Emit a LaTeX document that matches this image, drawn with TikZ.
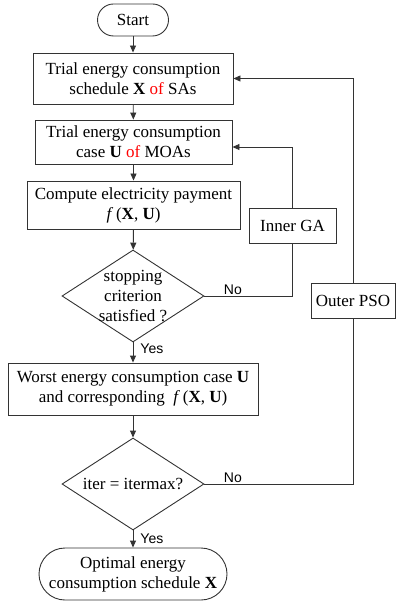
\documentclass[tikz,border=0pt]{standalone}
\usepackage{fontspec}
\setmainfont{Liberation Serif}
\newfontfamily\lblfont{Liberation Sans}
\usetikzlibrary{shapes.geometric,arrows.meta}
\begin{document}
\begin{tikzpicture}[x=1pt,y=-1pt,
  font=\fontsize{17}{20}\selectfont,
  line/.style={draw=black!80,line width=0.9pt},
  flow/.style={line,-{Triangle[length=7pt,width=6pt]}},
  box/.style={line,rectangle,align=center,inner sep=0pt},
  decision/.style={line,diamond,aspect=1.54,align=center,inner sep=-3pt,
    minimum width=142pt,minimum height=92pt},
  lbl/.style={font=\lblfont\fontsize{14}{16}\selectfont,inner sep=1pt}]
  \useasboundingbox (0,0) rectangle (396,601);
  % main column
  \node[box,rounded corners=16pt,minimum width=71pt,minimum height=32pt] (start) at (133,20) {Start};
  \node[box,minimum width=200pt,minimum height=51pt] (trialX) at (133,78.5)
    {Trial energy consumption\\schedule \textbf{X} \textcolor{red}{of} SAs};
  \node[box,minimum width=197pt,minimum height=44pt] (trialU) at (133.5,142)
    {Trial energy consumption\\case \textbf{U} \textcolor{red}{of} MOAs};
  \node[box,minimum width=213pt,minimum height=48pt] (pay) at (133.5,205)
    {Compute electricity payment\\\textit{f}\,(\textbf{X}, \textbf{U})};
  \node[decision] (stop) at (133,296) {stopping\\criterion\\satisfied ?};
  \node[box,minimum width=250pt,minimum height=52pt] (worst) at (133,389)
    {Worst energy consumption case \textbf{U}\\and corresponding \ \textit{f}\,(\textbf{X}, \textbf{U})};
  \node[decision] (iter) at (133,484) {iter = itermax?};
  \node[box,rounded corners=26pt,minimum width=188pt,minimum height=52pt] (opt) at (133,574)
    {Optimal energy\\consumption schedule \textbf{X}};
  % loop boxes
  \node[box,minimum width=87pt,minimum height=35pt] (ga) at (292.5,225.5) {Inner GA};
  \node[box,minimum width=84pt,minimum height=35pt] (pso) at (353,300.5) {Outer PSO};
  % arrows
  \draw[flow] (start) -- (trialX);
  \draw[flow] (trialX) -- (trialU);
  \draw[flow] (trialU) -- (pay);
  \draw[flow] (pay) -- (stop);
  \draw[flow] (stop) -- node[lbl,anchor=west,pos=0.3,xshift=6pt] {Yes} (worst);
  \draw[flow] (worst) -- (iter);
  \draw[flow] (iter) -- node[lbl,anchor=west,pos=0.5,xshift=6pt] {Yes} (opt);
  % inner loop
  \draw[line] (stop.east) -| node[lbl,anchor=south west,pos=0,xshift=18pt] {No} (ga.south);
  \draw[flow] (ga.north) |- ([yshift=-5pt]trialU.east);
  % outer loop
  \draw[line] (iter.east) -| node[lbl,anchor=south west,pos=0,xshift=18pt] {No} (pso.south);
  \draw[flow] (pso.north) |- (trialX.east);
\end{tikzpicture}
\end{document}
